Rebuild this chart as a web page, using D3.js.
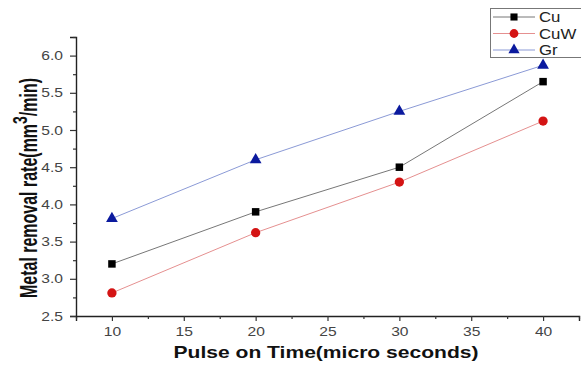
<!DOCTYPE html>
<html><head><meta charset="utf-8">
<script src="https://cdn.jsdelivr.net/npm/d3@7"></script>
<style>body{margin:0;background:#fff}svg{display:block;font-family:"Liberation Sans",Arial,sans-serif}</style>
</head><body><svg id="c" width="581" height="365"></svg>
<script>
const pulseOn = [10, 20, 30, 40];
const cu  = [3.20, 3.90, 4.50, 5.65];
const cuw = [2.81, 3.62, 4.30, 5.12];
const gr  = [3.81, 4.60, 5.25, 5.87];
const xTicks = [10, 15, 20, 25, 30, 35, 40];
const yTicks = [2.5, 3.0, 3.5, 4.0, 4.5, 5.0, 5.5, 6.0];
const seriesNames = ["Cu", "CuW", "Gr"];

const svg = d3.select("#c");
const x = d3.scaleLinear().domain([7.5, 42.5]).range([76, 579]);
const y = d3.scaleLinear().domain([2.5, 6.25]).range([316, 37]);
const sx = 1.25; // horizontal stretch of the reference's text

// axes
const xAxis = d3.axisBottom(x).tickValues(xTicks).tickFormat(d3.format("d")).tickSize(5).tickPadding(6);
const gx = svg.append("g").attr("transform", "translate(0,316)").call(xAxis);
const xMinor = d3.range(7.5, 43, 2.5).filter(v => !xTicks.includes(v));
svg.append("g").attr("transform", "translate(0,316)")
  .call(d3.axisBottom(x).tickValues(xMinor).tickFormat("").tickSize(3))
  .select(".domain").remove();

const yAxis = d3.axisLeft(y).tickValues(yTicks).tickFormat(d3.format(".1f")).tickSize(6).tickPadding(7);
const gy = svg.append("g").attr("transform", "translate(76,0)").call(yAxis);
const yMinor = d3.range(2.75, 6.3, 0.5);
svg.append("g").attr("transform", "translate(76,0)")
  .call(d3.axisLeft(y).tickValues(yMinor).tickFormat("").tickSize(3))
  .select(".domain").remove();

svg.selectAll(".domain").attr("stroke", "#222").attr("stroke-width", 1.4);
svg.selectAll(".tick line").attr("stroke", "#333").attr("stroke-width", 1.2);
svg.selectAll(".tick text").attr("font-size", 12.5).attr("fill", "#444")
  .attr("font-family", "Liberation Sans, Arial, sans-serif");
gx.selectAll(".tick text").attr("transform", `scale(${sx},1)`);
gy.selectAll(".tick text").attr("x", -13 / sx).attr("transform", `scale(${sx},1)`);

// axis titles
svg.append("text").attr("x", 326).attr("y", 358).attr("text-anchor", "middle")
  .attr("font-size", 17).attr("font-weight", "bold").attr("fill", "#111")
  .attr("textLength", 305).attr("lengthAdjust", "spacingAndGlyphs")
  .text("Pulse on Time(micro seconds)");
const yl = svg.append("text").attr("transform", "translate(37,188) rotate(-90) scale(1,1.45)")
  .attr("text-anchor", "middle").attr("font-size", 16).attr("font-weight", "bold").attr("fill", "#111");
yl.append("tspan").text("Metal removal rate(mm");
yl.append("tspan").attr("dy", -7).attr("font-size", 14).text("3");
yl.append("tspan").attr("dy", 7).text("/min)");

const series = [
  {name: seriesNames[0], vals: cu,  line: "#777", fill: "#000", shape: d3.symbolSquare, size: 56},
  {name: seriesNames[1], vals: cuw, line: "#e59090", fill: "#d41414", shape: d3.symbolCircle, size: 68},
  {name: seriesNames[2], vals: gr,  line: "#8b9ad6", fill: "#0b1a9e", shape: d3.symbolTriangle, size: 60}
];
const line = d3.line().x((d, i) => x(pulseOn[i])).y(d => y(d));
series.forEach(s => {
  svg.append("path").attr("d", line(s.vals)).attr("fill", "none")
    .attr("stroke", s.line).attr("stroke-width", 1);
  svg.selectAll(null).data(s.vals).enter().append("path")
    .attr("d", d3.symbol().type(s.shape).size(s.size))
    .attr("transform", (d, i) => `translate(${x(pulseOn[i])},${y(d)})`)
    .attr("fill", s.fill);
});

// legend
const lg = svg.append("g");
lg.append("rect").attr("x", 490.5).attr("y", 8.5).attr("width", 95).attr("height", 49)
  .attr("fill", "#fff").attr("stroke", "#777").attr("stroke-width", 1);
series.forEach((s, i) => {
  const yy = 17 + i * 16.5;
  lg.append("line").attr("x1", 493).attr("x2", 535).attr("y1", yy).attr("y2", yy)
    .attr("stroke", s.line).attr("stroke-width", 1);
  lg.append("path").attr("d", d3.symbol().type(s.shape).size(s.size * 0.9)).attr("fill", s.fill)
    .attr("transform", `translate(514,${yy})`);
  lg.append("text").attr("transform", `translate(539,${yy + 5}) scale(1.2,1)`)
    .attr("font-size", 14).attr("fill", "#222").text(s.name);
});
</script></body></html>
